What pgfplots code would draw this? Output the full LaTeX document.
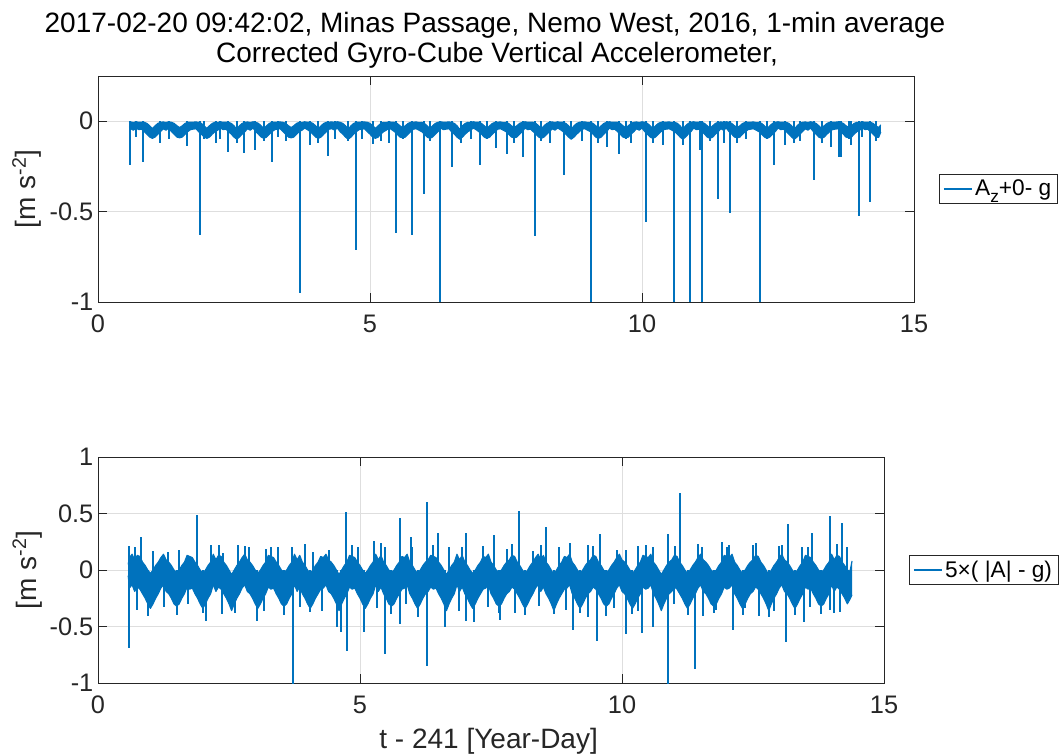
\documentclass[border=0pt]{standalone}
\usepackage{pgfplots}
\usepackage{pgfplotstable}
\pgfplotsset{compat=1.18}
\usepackage{fontspec}
\setmainfont{Liberation Sans}
\definecolor{mblue}{rgb}{0,0.447,0.741}
\definecolor{axgray}{rgb}{0.15,0.15,0.15}

% dense 1-min records shown as their envelope: x, top hi/lo, bottom hi/lo
\pgfplotstableread{
x      thi     tlo     bhi    blo
0.575 -0.010 -0.030  0.05 -0.05
0.60  -0.004 -0.042  0.11 -0.16
0.65  -0.007 -0.050  0.14 -0.13
0.70  -0.003 -0.038  0.09 -0.19
0.75  -0.006 -0.047  0.13 -0.15
0.80  -0.005 -0.044  0.12 -0.17
0.85  -0.006 -0.058  0.07 -0.21
0.90  -0.012 -0.072  0.04 -0.25
0.95  -0.025 -0.088  0.00 -0.30
1.00  -0.040 -0.095 -0.03 -0.34
1.05  -0.025 -0.088  0.00 -0.30
1.10  -0.012 -0.072  0.04 -0.25
1.15  -0.006 -0.058  0.07 -0.21
1.20  -0.004 -0.042  0.11 -0.16
1.25  -0.007 -0.050  0.14 -0.13
1.30  -0.003 -0.038  0.09 -0.19
1.35  -0.006 -0.058  0.07 -0.21
1.40  -0.012 -0.072  0.04 -0.25
1.45  -0.025 -0.088  0.00 -0.30
1.50  -0.035 -0.092 -0.02 -0.32
1.55  -0.025 -0.088  0.00 -0.30
1.60  -0.012 -0.072  0.04 -0.25
1.65  -0.006 -0.058  0.07 -0.21
1.70  -0.006 -0.047  0.13 -0.15
1.75  -0.005 -0.044  0.12 -0.17
1.80  -0.004 -0.042  0.11 -0.16
1.85  -0.006 -0.058  0.07 -0.21
1.90  -0.012 -0.072  0.04 -0.25
1.95  -0.025 -0.088  0.00 -0.30
2.00  -0.040 -0.095 -0.03 -0.34
2.05  -0.025 -0.088  0.00 -0.30
2.10  -0.012 -0.072  0.04 -0.25
2.15  -0.006 -0.058  0.07 -0.21
2.20  -0.007 -0.050  0.14 -0.13
2.25  -0.003 -0.038  0.09 -0.19
2.30  -0.006 -0.047  0.13 -0.15
2.35  -0.005 -0.044  0.12 -0.17
2.40  -0.006 -0.058  0.07 -0.21
2.45  -0.012 -0.072  0.04 -0.25
2.50  -0.025 -0.088  0.00 -0.30
2.55  -0.045 -0.100 -0.04 -0.36
2.60  -0.025 -0.088  0.00 -0.30
2.65  -0.012 -0.072  0.04 -0.25
2.70  -0.006 -0.058  0.07 -0.21
2.75  -0.004 -0.042  0.11 -0.16
2.80  -0.007 -0.050  0.14 -0.13
2.85  -0.003 -0.038  0.09 -0.19
2.90  -0.006 -0.058  0.07 -0.21
2.95  -0.012 -0.072  0.04 -0.25
3.00  -0.025 -0.088  0.00 -0.30
3.05  -0.040 -0.095 -0.03 -0.34
3.10  -0.025 -0.088  0.00 -0.30
3.15  -0.012 -0.072  0.04 -0.25
3.20  -0.006 -0.058  0.07 -0.21
3.25  -0.006 -0.047  0.13 -0.15
3.30  -0.005 -0.044  0.12 -0.17
3.35  -0.004 -0.042  0.11 -0.16
3.40  -0.006 -0.058  0.07 -0.21
3.45  -0.012 -0.072  0.04 -0.25
3.50  -0.025 -0.088  0.00 -0.30
3.55  -0.035 -0.092 -0.02 -0.32
3.60  -0.025 -0.088  0.00 -0.30
3.65  -0.012 -0.072  0.04 -0.25
3.70  -0.006 -0.058  0.07 -0.21
3.75  -0.007 -0.050  0.14 -0.13
3.80  -0.003 -0.038  0.09 -0.19
3.85  -0.006 -0.047  0.13 -0.15
3.90  -0.006 -0.058  0.07 -0.21
3.95  -0.012 -0.072  0.04 -0.25
4.00  -0.025 -0.088  0.00 -0.30
4.05  -0.040 -0.095 -0.03 -0.34
4.10  -0.025 -0.088  0.00 -0.30
4.15  -0.012 -0.072  0.04 -0.25
4.20  -0.006 -0.058  0.07 -0.21
4.25  -0.005 -0.044  0.12 -0.17
4.30  -0.004 -0.042  0.11 -0.16
4.35  -0.007 -0.050  0.14 -0.13
4.40  -0.003 -0.038  0.09 -0.19
4.45  -0.006 -0.058  0.07 -0.21
4.50  -0.012 -0.072  0.04 -0.25
4.55  -0.025 -0.088  0.00 -0.30
4.60  -0.045 -0.100 -0.04 -0.36
4.65  -0.025 -0.088  0.00 -0.30
4.70  -0.012 -0.072  0.04 -0.25
4.75  -0.006 -0.058  0.07 -0.21
4.80  -0.006 -0.047  0.13 -0.15
4.85  -0.005 -0.044  0.12 -0.17
4.90  -0.004 -0.042  0.11 -0.16
4.95  -0.006 -0.058  0.07 -0.21
5.00  -0.012 -0.072  0.04 -0.25
5.05  -0.025 -0.088  0.00 -0.30
5.10  -0.040 -0.095 -0.03 -0.34
5.15  -0.025 -0.088  0.00 -0.30
5.20  -0.012 -0.072  0.04 -0.25
5.25  -0.006 -0.058  0.07 -0.21
5.30  -0.007 -0.050  0.14 -0.13
5.35  -0.003 -0.038  0.09 -0.19
5.40  -0.006 -0.047  0.13 -0.15
5.45  -0.006 -0.058  0.07 -0.21
5.50  -0.012 -0.072  0.04 -0.25
5.55  -0.025 -0.088  0.00 -0.30
5.60  -0.035 -0.092 -0.02 -0.32
5.65  -0.025 -0.088  0.00 -0.30
5.70  -0.012 -0.072  0.04 -0.25
5.75  -0.006 -0.058  0.07 -0.21
5.80  -0.005 -0.044  0.12 -0.17
5.85  -0.004 -0.042  0.11 -0.16
5.90  -0.007 -0.050  0.14 -0.13
5.95  -0.006 -0.058  0.07 -0.21
6.00  -0.012 -0.072  0.04 -0.25
6.05  -0.025 -0.088  0.00 -0.30
6.10  -0.040 -0.095 -0.03 -0.34
6.15  -0.025 -0.088  0.00 -0.30
6.20  -0.012 -0.072  0.04 -0.25
6.25  -0.006 -0.058  0.07 -0.21
6.30  -0.003 -0.038  0.09 -0.19
6.35  -0.006 -0.047  0.13 -0.15
6.40  -0.005 -0.044  0.12 -0.17
6.45  -0.004 -0.042  0.11 -0.16
6.50  -0.006 -0.058  0.07 -0.21
6.55  -0.012 -0.072  0.04 -0.25
6.60  -0.025 -0.088  0.00 -0.30
6.65  -0.045 -0.100 -0.04 -0.36
6.70  -0.025 -0.088  0.00 -0.30
6.75  -0.012 -0.072  0.04 -0.25
6.80  -0.006 -0.058  0.07 -0.21
6.85  -0.007 -0.050  0.14 -0.13
6.90  -0.003 -0.038  0.09 -0.19
6.95  -0.006 -0.047  0.13 -0.15
7.00  -0.006 -0.058  0.07 -0.21
7.05  -0.012 -0.072  0.04 -0.25
7.10  -0.025 -0.088  0.00 -0.30
7.15  -0.040 -0.095 -0.03 -0.34
7.20  -0.025 -0.088  0.00 -0.30
7.25  -0.012 -0.072  0.04 -0.25
7.30  -0.006 -0.058  0.07 -0.21
7.35  -0.005 -0.044  0.12 -0.17
7.40  -0.004 -0.042  0.11 -0.16
7.45  -0.007 -0.050  0.14 -0.13
7.50  -0.006 -0.058  0.07 -0.21
7.55  -0.012 -0.072  0.04 -0.25
7.60  -0.025 -0.088  0.00 -0.30
7.65  -0.035 -0.092 -0.02 -0.32
7.70  -0.025 -0.088  0.00 -0.30
7.75  -0.012 -0.072  0.04 -0.25
7.80  -0.006 -0.058  0.07 -0.21
7.85  -0.003 -0.038  0.09 -0.19
7.90  -0.006 -0.047  0.13 -0.15
7.95  -0.005 -0.044  0.12 -0.17
8.00  -0.006 -0.058  0.07 -0.21
8.05  -0.012 -0.072  0.04 -0.25
8.10  -0.025 -0.088  0.00 -0.30
8.15  -0.040 -0.095 -0.03 -0.34
8.20  -0.025 -0.088  0.00 -0.30
8.25  -0.012 -0.072  0.04 -0.25
8.30  -0.006 -0.058  0.07 -0.21
8.35  -0.004 -0.042  0.11 -0.16
8.40  -0.007 -0.050  0.14 -0.13
8.45  -0.003 -0.038  0.09 -0.19
8.50  -0.006 -0.047  0.13 -0.15
8.55  -0.006 -0.058  0.07 -0.21
8.60  -0.012 -0.072  0.04 -0.25
8.65  -0.025 -0.088  0.00 -0.30
8.70  -0.045 -0.100 -0.04 -0.36
8.75  -0.025 -0.088  0.00 -0.30
8.80  -0.012 -0.072  0.04 -0.25
8.85  -0.006 -0.058  0.07 -0.21
8.90  -0.005 -0.044  0.12 -0.17
8.95  -0.004 -0.042  0.11 -0.16
9.00  -0.007 -0.050  0.14 -0.13
9.05  -0.006 -0.058  0.07 -0.21
9.10  -0.012 -0.072  0.04 -0.25
9.15  -0.025 -0.088  0.00 -0.30
9.20  -0.040 -0.095 -0.03 -0.34
9.25  -0.025 -0.088  0.00 -0.30
9.30  -0.012 -0.072  0.04 -0.25
9.35  -0.006 -0.058  0.07 -0.21
9.40  -0.003 -0.038  0.09 -0.19
9.45  -0.006 -0.047  0.13 -0.15
9.50  -0.005 -0.044  0.12 -0.17
9.55  -0.006 -0.058  0.07 -0.21
9.60  -0.012 -0.072  0.04 -0.25
9.65  -0.025 -0.088  0.00 -0.30
9.70  -0.035 -0.092 -0.02 -0.32
9.75  -0.025 -0.088  0.00 -0.30
9.80  -0.012 -0.072  0.04 -0.25
9.85  -0.006 -0.058  0.07 -0.21
9.90  -0.004 -0.042  0.11 -0.16
9.95  -0.007 -0.050  0.14 -0.13
10.00 -0.003 -0.038  0.09 -0.19
10.05 -0.006 -0.058  0.07 -0.21
10.10 -0.012 -0.072  0.04 -0.25
10.15 -0.025 -0.088  0.00 -0.30
10.20 -0.040 -0.095 -0.03 -0.34
10.25 -0.025 -0.088  0.00 -0.30
10.30 -0.012 -0.072  0.04 -0.25
10.35 -0.006 -0.058  0.07 -0.21
10.40 -0.006 -0.047  0.13 -0.15
10.45 -0.005 -0.044  0.12 -0.17
10.50 -0.004 -0.042  0.11 -0.16
10.55 -0.007 -0.050  0.14 -0.13
10.60 -0.006 -0.058  0.07 -0.21
10.65 -0.012 -0.072  0.04 -0.25
10.70 -0.025 -0.088  0.00 -0.30
10.75 -0.045 -0.100 -0.04 -0.36
10.80 -0.025 -0.088  0.00 -0.30
10.85 -0.012 -0.072  0.04 -0.25
10.90 -0.006 -0.058  0.07 -0.21
10.95 -0.003 -0.038  0.09 -0.19
11.00 -0.006 -0.047  0.13 -0.15
11.05 -0.005 -0.044  0.12 -0.17
11.10 -0.006 -0.058  0.07 -0.21
11.15 -0.012 -0.072  0.04 -0.25
11.20 -0.025 -0.088  0.00 -0.30
11.25 -0.040 -0.095 -0.03 -0.34
11.30 -0.025 -0.088  0.00 -0.30
11.35 -0.012 -0.072  0.04 -0.25
11.40 -0.006 -0.058  0.07 -0.21
11.45 -0.004 -0.042  0.11 -0.16
11.50 -0.007 -0.050  0.14 -0.13
11.55 -0.003 -0.038  0.09 -0.19
11.60 -0.006 -0.058  0.07 -0.21
11.65 -0.012 -0.072  0.04 -0.25
11.70 -0.025 -0.088  0.00 -0.30
11.75 -0.035 -0.092 -0.02 -0.32
11.80 -0.025 -0.088  0.00 -0.30
11.85 -0.012 -0.072  0.04 -0.25
11.90 -0.006 -0.058  0.07 -0.21
11.95 -0.006 -0.047  0.13 -0.15
12.00 -0.005 -0.044  0.12 -0.17
12.05 -0.004 -0.042  0.11 -0.16
12.10 -0.007 -0.050  0.14 -0.13
12.15 -0.006 -0.058  0.07 -0.21
12.20 -0.012 -0.072  0.04 -0.25
12.25 -0.025 -0.088  0.00 -0.30
12.30 -0.040 -0.095 -0.03 -0.34
12.35 -0.025 -0.088  0.00 -0.30
12.40 -0.012 -0.072  0.04 -0.25
12.45 -0.006 -0.058  0.07 -0.21
12.50 -0.003 -0.038  0.09 -0.19
12.55 -0.006 -0.047  0.13 -0.15
12.60 -0.005 -0.044  0.12 -0.17
12.65 -0.006 -0.058  0.07 -0.21
12.70 -0.012 -0.072  0.04 -0.25
12.75 -0.025 -0.088  0.00 -0.30
12.80 -0.045 -0.100 -0.04 -0.36
12.85 -0.025 -0.088  0.00 -0.30
12.90 -0.012 -0.072  0.04 -0.25
12.95 -0.006 -0.058  0.07 -0.21
13.00 -0.004 -0.042  0.11 -0.16
13.05 -0.007 -0.050  0.14 -0.13
13.10 -0.003 -0.038  0.09 -0.19
13.15 -0.006 -0.058  0.07 -0.21
13.20 -0.012 -0.072  0.04 -0.25
13.25 -0.025 -0.088  0.00 -0.30
13.30 -0.040 -0.095 -0.03 -0.34
13.35 -0.025 -0.088  0.00 -0.30
13.40 -0.012 -0.072  0.04 -0.25
13.45 -0.006 -0.058  0.07 -0.21
13.50 -0.006 -0.047  0.13 -0.15
13.55 -0.005 -0.044  0.12 -0.17
13.60 -0.004 -0.042  0.11 -0.16
13.65 -0.006 -0.058  0.07 -0.21
13.70 -0.012 -0.072  0.04 -0.25
13.75 -0.025 -0.088  0.00 -0.30
13.80 -0.035 -0.092 -0.02 -0.32
13.85 -0.025 -0.088  0.00 -0.30
13.90 -0.012 -0.072  0.04 -0.25
13.95 -0.006 -0.058  0.07 -0.21
14.00 -0.007 -0.050  0.14 -0.13
14.05 -0.003 -0.038  0.09 -0.19
14.10 -0.006 -0.047  0.13 -0.15
14.15 -0.005 -0.044  0.12 -0.17
14.20 -0.006 -0.058  0.07 -0.21
14.25 -0.012 -0.072  0.04 -0.25
14.30 -0.025 -0.088  0.00 -0.30
14.35 -0.035 -0.090 -0.01 -0.26
14.39 -0.020 -0.060  0.08 -0.22
}\bandtab

\pgfplotsset{
  mline/.style={mblue, no marks, line width=1.2pt, line join=round},
  mstyle/.style={
    scale only axis,
    axis line style={axgray, line width=0.6pt},
    tick style={axgray, line width=0.6pt},
    major tick length=7pt,
    tick align=inside,
    grid=major,
    major grid style={black!13, line width=0.6pt},
    xmin=0, xmax=15, xtick={0,5,10,15},
    tick label style={font=\fontsize{19}{22}\selectfont, text=axgray},
    xticklabel style={yshift=-6pt},
    /pgf/number format/assume math mode=true,
    label style={font=\fontsize{21}{25}\selectfont, text=axgray},
    legend style={font=\fontsize{17}{20}\selectfont, draw=axgray, line width=0.6pt,
      at={(1,0.5)}, anchor=west, xshift=18.75pt, inner xsep=3pt, inner ysep=2pt},
    legend image code/.code={\draw[#1, line width=0.8pt] (0pt,0pt) -- (21pt,0pt);},
  }
}

\begin{document}
\begin{tikzpicture}
\useasboundingbox (0pt,0pt) rectangle (797.25pt,-566.25pt);
\node[anchor=base, font=\fontsize{21}{25}\selectfont] at (371.25pt,-24.75pt) {2017-02-20 09:42:02, Minas Passage, Nemo West, 2016, 1-min average};
\node[anchor=base, font=\fontsize{21}{25}\selectfont] at (372.75pt,-47.25pt) {Corrected Gyro-Cube Vertical Accelerometer,};

% top panel: vertical acceleration
\begin{axis}[mstyle, at={(73.5pt,-226.5pt)}, anchor=south west,
  width=612pt, height=169.5pt,
  ymin=-1, ymax=0.25, ytick={-1,-0.5,0},
  ylabel={[m s\textsuperscript{-2}]},
  ylabel style={at={(axis description cs:-0.087,0.5)}, anchor=center}]
\addplot[mline, line width=0.8pt] table[x=x, y=thi] {\bandtab};
\addlegendentry{A\raisebox{-5pt}{\fontsize{13}{13}\selectfont z}+0- g}
\addplot[mline, line width=0.8pt, forget plot] table[x=x, y=tlo] {\bandtab};
% band between the two envelopes
\addplot[draw=none, no marks, forget plot, stack plots=y] table[x=x, y=tlo] {\bandtab};
\addplot[fill=mblue, draw=none, no marks, forget plot, stack plots=y] table[x=x, y expr=\thisrow{thi}-\thisrow{tlo}] {\bandtab} \closedcycle;
% single-sample spikes
\addplot[mline, line width=1.5pt, ycomb, forget plot] coordinates {(0.59,-0.24)(0.70,-0.09)(0.82,-0.227)(1.14,-0.123)(1.30,-0.10)(1.64,-0.138)(1.875,-0.629)(1.95,-0.10)(2.16,-0.12)(2.25,-0.10)(2.39,-0.17)(2.55,-0.12)(2.68,-0.175)(2.89,-0.16)(3.05,-0.11)(3.19,-0.227)(3.30,-0.09)(3.45,-0.11)(3.71,-0.95)(3.90,-0.13)(4.05,-0.12)(4.22,-0.195)(4.35,-0.10)(4.59,-0.11)(4.74,-0.71)(4.85,-0.10)(5.06,-0.125)(5.20,-0.11)(5.35,-0.12)(5.48,-0.618)(5.60,-0.10)(5.77,-0.63)(5.99,-0.40)(6.10,-0.11)(6.29,-1.05)(6.51,-0.255)(6.67,-0.12)(6.85,-0.10)(7.02,-0.245)(7.15,-0.10)(7.31,-0.15)(7.52,-0.184)(7.65,-0.12)(7.81,-0.2)(8.04,-0.637)(8.15,-0.11)(8.30,-0.12)(8.56,-0.295)(8.70,-0.10)(8.90,-0.11)(9.06,-1.05)(9.20,-0.12)(9.36,-0.14)(9.57,-0.18)(9.70,-0.10)(9.80,-0.12)(10.07,-0.56)(10.20,-0.12)(10.39,-0.13)(10.59,-1.05)(10.75,-0.13)(10.88,-1.05)(11.06,-0.16)(11.11,-1.05)(11.25,-0.11)(11.39,-0.428)(11.50,-0.12)(11.62,-0.507)(11.75,-0.12)(11.92,-0.1)(12.16,-1.05)(12.30,-0.10)(12.43,-0.24)(12.62,-0.13)(12.80,-0.12)(12.90,-0.11)(13.155,-0.22)(13.17,-0.323)(13.30,-0.12)(13.47,-0.14)(13.62,-0.2)(13.66,-0.2)(13.80,-0.10)(13.85,-0.13)(13.98,-0.526)(14.05,-0.09)(14.20,-0.448)(14.30,-0.11)};
\end{axis}

% bottom panel: magnitude minus g, times 5
\begin{axis}[mstyle, at={(73.5pt,-512.25pt)}, anchor=south west,
  width=589.5pt, height=169.5pt,
  ymin=-1, ymax=1, ytick={-1,-0.5,0,0.5,1},
  xlabel={t - 241 [Year-Day]},
  xlabel style={at={(axis description cs:0.497,-0.288)}, anchor=base},
  ylabel={[m s\textsuperscript{-2}]},
  ylabel style={at={(axis description cs:-0.090,0.5)}, anchor=center}]
\addplot[mline, line width=0.8pt] table[x=x, y=bhi] {\bandtab};
\addlegendentry{5×( |A| - g)}
\addplot[mline, line width=0.8pt, forget plot] table[x=x, y=blo] {\bandtab};
\addplot[draw=none, no marks, forget plot, stack plots=y] table[x=x, y=blo] {\bandtab};
\addplot[fill=mblue, draw=none, no marks, forget plot, stack plots=y] table[x=x, y expr=\thisrow{bhi}-\thisrow{blo}] {\bandtab} \closedcycle;
% single-sample spikes
\addplot[mline, line width=1.5pt, ycomb, forget plot] coordinates {(0.59,-0.69)(0.595,0.21)(0.70,0.2)(0.75,-0.35)(0.82,0.29)(0.96,-0.41)(1.05,0.17)(1.25,-0.33)(1.34,0.16)(1.50,-0.40)(1.55,0.18)(1.72,-0.30)(1.88,0.49)(2.00,-0.38)(2.06,-0.45)(2.16,0.22)(2.30,0.22)(2.37,-0.39)(2.39,0.15)(2.62,-0.38)(2.68,0.22)(2.80,0.21)(2.89,0.2)(3.03,-0.45)(3.16,-0.36)(3.20,0.19)(3.30,0.2)(3.44,0.2)(3.55,-0.40)(3.71,0.2)(3.712,-1.05)(3.85,-0.33)(3.95,0.23)(4.05,-0.37)(4.10,0.16)(4.28,-0.36)(4.40,0.18)(4.555,-0.5)(4.63,-0.55)(4.74,0.51)(4.745,-0.72)(4.85,0.22)(4.96,0.2)(5.08,-0.55)(5.26,0.26)(5.33,-0.34)(5.40,0.24)(5.47,0.2)(5.475,-0.74)(5.60,-0.39)(5.76,0.46)(5.765,-0.48)(5.88,-0.30)(5.97,0.29)(6.00,0.2)(6.10,-0.42)(6.27,0.60)(6.275,-0.85)(6.40,0.22)(6.49,0.33)(6.63,-0.5)(6.70,0.2)(6.88,-0.36)(6.95,0.2)(7.02,0.33)(7.025,-0.45)(7.17,-0.46)(7.35,0.21)(7.45,-0.33)(7.555,0.31)(7.65,-0.38)(7.67,-0.44)(7.81,0.19)(7.90,0.23)(7.95,-0.38)(8.03,0.52)(8.15,-0.40)(8.31,0.17)(8.42,-0.32)(8.45,0.22)(8.555,0.38)(8.70,-0.39)(8.80,0.2)(8.93,-0.35)(9.00,0.24)(9.06,-0.53)(9.20,-0.38)(9.355,0.22)(9.36,-0.42)(9.45,0.21)(9.53,-0.63)(9.58,0.32)(9.70,-0.41)(9.85,-0.34)(9.90,0.18)(10.07,0.18)(10.075,-0.57)(10.20,-0.39)(10.30,0.21)(10.31,-0.36)(10.39,-0.56)(10.45,0.22)(10.59,0.2)(10.595,-0.5)(10.87,0.32)(10.875,-1.05)(11.00,-0.30)(11.01,0.21)(11.11,0.68)(11.25,-0.40)(11.39,-0.88)(11.45,0.23)(11.53,0.2)(11.545,-0.41)(11.75,-0.38)(11.80,-0.35)(11.905,0.25)(12.00,0.2)(12.05,0.22)(12.12,-0.53)(12.30,-0.40)(12.35,-0.34)(12.50,0.22)(12.55,0.24)(12.61,-0.41)(12.80,-0.42)(12.90,-0.36)(13.00,0.21)(13.05,0.22)(13.13,-0.64)(13.17,0.41)(13.30,-0.40)(13.43,0.2)(13.48,-0.46)(13.55,0.2)(13.58,-0.33)(13.63,0.33)(13.80,-0.39)(13.97,0.48)(13.975,-0.35)(14.05,-0.38)(14.10,0.23)(14.16,-0.37)(14.19,0.42)(14.30,0.2)};
\end{axis}
\end{tikzpicture}
\end{document}
